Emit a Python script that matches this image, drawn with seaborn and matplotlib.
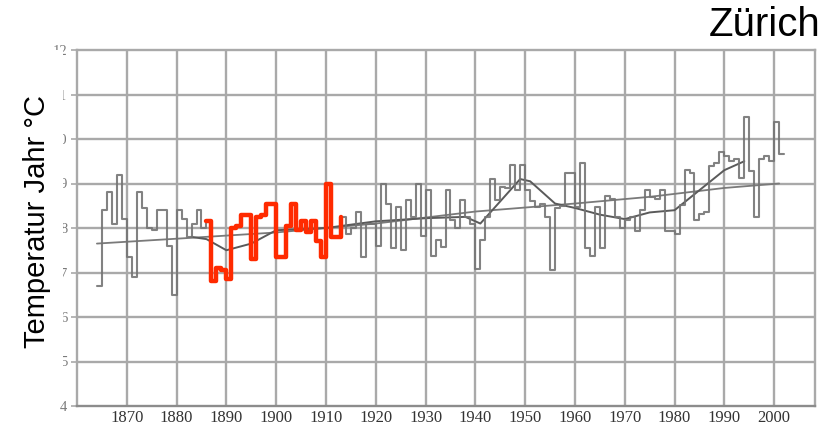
import matplotlib
matplotlib.use("Agg")
import matplotlib.pyplot as plt
from matplotlib.patches import Rectangle
import pandas as pd
import seaborn as sns

# ---- data ----
first_year = 1864
temp_c = [
    6.7, 8.4, 8.8, 8.1, 9.2, 8.2,                                  # 1864-1869
    7.35, 6.9, 8.8, 8.45, 8.0, 7.95, 8.4, 8.4, 7.6, 6.5,           # 1870s
    8.4, 8.2, 7.8, 8.1, 8.4, 8.0, 8.15, 6.8, 7.1, 7.05,            # 1880s
    6.85, 8.0, 8.05, 8.3, 8.3, 7.3, 8.25, 8.3, 8.55, 8.55,         # 1890s
    7.35, 7.35, 8.05, 8.55, 7.95, 8.15, 7.9, 8.15, 7.7, 7.35,      # 1900s
    9.0, 7.8, 7.8, 8.25, 7.87, 8.0, 8.35, 7.35, 8.1, 8.1,          # 1910s
    7.6, 9.0, 8.55, 7.55, 8.47, 7.5, 8.62, 8.25, 9.0, 7.83,        # 1920s
    8.85, 7.38, 7.72, 7.57, 8.85, 8.17, 8.0, 8.62, 8.25, 8.1,      # 1930s
    7.08, 7.72, 8.25, 9.1, 8.62, 8.92, 8.9, 9.41, 8.85, 9.41,      # 1940s
    8.85, 8.6, 8.47, 8.55, 8.24, 7.05, 8.45, 8.5, 9.23, 9.23,      # 1950s
    8.47, 9.45, 7.56, 7.37, 8.47, 7.56, 8.73, 8.66, 8.24, 8.0,     # 1960s
    8.17, 8.24, 7.94, 8.4, 8.85, 8.7, 8.66, 8.85, 7.94, 7.94,      # 1970s
    7.86, 8.51, 9.31, 9.24, 8.17, 8.32, 8.36, 9.39, 9.47, 9.7,     # 1980s
    9.62, 9.5, 9.54, 9.12, 10.5, 9.27, 8.24, 9.54, 9.62, 9.5,      # 1990s
    10.38, 9.66,                                                   # 2000s
]
trend_years = [1864, 1883, 1900, 1920, 1940, 1960, 1975, 1990, 2001]
trend_vals = [7.65, 7.78, 7.9, 8.1, 8.37, 8.55, 8.7, 8.9, 9.0]
smooth_years = [1883, 1886, 1890, 1895, 1900, 1910, 1920, 1930, 1938, 1941,
                1945, 1949, 1951, 1956, 1960, 1965, 1970, 1975, 1980, 1985,
                1990, 1994]
smooth_vals = [7.8, 7.75, 7.5, 7.65, 7.95, 8.0, 8.15, 8.22, 8.25, 8.1,
               8.6, 9.1, 9.05, 8.55, 8.45, 8.3, 8.2, 8.35, 8.4, 8.85,
               9.3, 9.5]
red_from, red_to = 1886, 1913
x_ticks = [1870, 1880, 1890, 1900, 1910, 1920, 1930, 1940, 1950, 1960,
           1970, 1980, 1990, 2000]
y_ticks = [4, 5, 6, 7, 8, 9, 10, 11, 12]
title_text = "Zürich"
ylabel_text = "Temperatur Jahr °C"

years = list(range(first_year, first_year + len(temp_c)))
df = pd.DataFrame({"year": years + [years[-1] + 1],
                   "temp": temp_c + [temp_c[-1]]})
red_df = df[(df["year"] >= red_from) & (df["year"] <= red_to)]
trend_df = pd.DataFrame({"year": trend_years, "temp": trend_vals})
smooth_df = pd.DataFrame({"year": smooth_years, "temp": smooth_vals})

sns.set_theme(style="white")
plt.rcParams["font.family"] = ["Liberation Sans", "DejaVu Sans"]

W, H = 829, 432
fig = plt.figure(figsize=(W / 100, H / 100), dpi=100)
fig.patch.set_facecolor("white")
L, R, T, B = 77, 815, 50, 406
ax = fig.add_axes([L / W, 1 - B / H, (R - L) / W, (B - T) / H])
ax.set_facecolor("white")

grid_c = "#a9a9a9"
for xv in x_ticks:
    ax.axvline(xv, color=grid_c, lw=1.7, zorder=1)
for yv in y_ticks[1:-1]:
    ax.axhline(yv, color=grid_c, lw=1.7, zorder=1)

sns.lineplot(data=trend_df, x="year", y="temp", ax=ax, color="#7a7a7a",
             lw=1.3, zorder=2)
sns.lineplot(data=smooth_df, x="year", y="temp", ax=ax, color="#5a5a5a",
             lw=1.4, zorder=2)
sns.lineplot(data=df, x="year", y="temp", ax=ax, drawstyle="steps-post",
             color="#747474", lw=1.5, alpha=0.9, zorder=3)
sns.lineplot(data=red_df, x="year", y="temp", ax=ax, drawstyle="steps-post",
             color="#ff2a00", lw=3.2, zorder=4,
             solid_joinstyle="round", solid_capstyle="round")

ax.set_xlim(1860, 2008.2)
ax.set_ylim(4, 12)
ax.set_xticks(x_ticks)
ax.set_yticks(y_ticks)
ax.set_xticklabels([str(v) for v in x_ticks], family="Liberation Serif",
                   fontsize=12, color="#333333")
ax.set_yticklabels([str(v) for v in y_ticks], family="Liberation Serif",
                   fontsize=10.5, color="#7a7a7a")
ax.tick_params(axis="x", length=0, pad=3)
ax.tick_params(axis="y", length=4, width=1.2, color=grid_c, pad=3,
               left=True)
for s in ax.spines.values():
    s.set_color(grid_c)
    s.set_linewidth(1.7)
ax.spines["bottom"].set_color("#8c8c8c")
ax.set_xlabel("")
ax.set_ylabel("")

# white box behind the y-axis title (covers part of the tick labels)
fig.add_artist(Rectangle((20 / W, 1 - 367 / H), 43 / W, 317 / H,
                         transform=fig.transFigure, facecolor="white",
                         edgecolor="none", zorder=5))
fig.text(37 / W, 1 - 222 / H, ylabel_text, rotation=90, ha="center",
         va="center", fontsize=21, color="black", zorder=6)
fig.text(821 / W, 1 - 6 / H, title_text, ha="right", va="top",
         fontsize=29, color="black", zorder=6)

fig.savefig("out.png", dpi=100, facecolor="white")
